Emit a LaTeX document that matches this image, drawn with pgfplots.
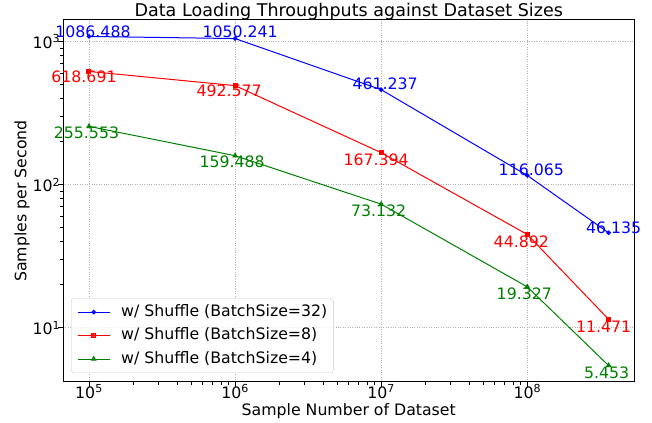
\documentclass[border=0pt]{standalone}
\usepackage{fontspec}
\setmainfont{DejaVu Sans}
\usepackage{pgfplots}
\pgfplotsset{compat=1.18}
\definecolor{mgreen}{RGB}{0,128,0}
\newcommand\cf{\fontsize{15.8}{19}\selectfont}
\newcommand\tf{\fontsize{17.6}{21}\selectfont}
\begin{document}
\cf
\begin{tikzpicture}[font=\cf]
\begin{axis}[
  at={(63bp,41bp)}, anchor=south west,
  scale only axis, width=571.5bp, height=362bp,
  xmode=log, ymode=log,
  xmin=66400, xmax=5.42e8, ymin=4.18, ymax=1416,
  clip=false,
  xtick={1e5,1e6,1e7,1e8},
  xticklabels={10\textsuperscript{5},10\textsuperscript{6},10\textsuperscript{7},10\textsuperscript{8}},
  ytick={10,100,1000},
  yticklabels={10\textsuperscript{1},10\textsuperscript{2},10\textsuperscript{3}},
  tick pos=left, tick align=outside,
  major tick length=4.6bp, minor tick length=2.6bp,
  every tick/.style={black, line width=0.8bp},
  axis line style={line width=1bp},
  grid=major, major grid style={draw=gray!60, dotted, line width=0.9bp},
  xticklabel style={font=\cf, anchor=base, inner sep=0pt, yshift=-11.5bp},
  yticklabel style={font=\cf, anchor=east, inner sep=0pt, xshift=2bp},
  title={Data Loading Throughputs against Dataset Sizes},
  every axis title/.style={font=\tf, at={(axis description cs:0.5,1.011)}, anchor=base, inner sep=0pt},
  xlabel={Sample Number of Dataset},
  every axis x label/.style={font=\cf, at={(axis description cs:0.5,-0.0939)}, anchor=base, inner sep=0pt},
  ylabel={Samples per Second},
  every axis y label/.style={font=\cf, at={(axis description cs:-0.0717,0.5)}, rotate=90, anchor=center, inner sep=0pt},
  legend cell align=left,
  legend style={font=\cf, at={(axis description cs:0,0)}, anchor=south west, xshift=8bp, yshift=9bp,
    draw=black!20, rounded corners=3bp, fill=white, fill opacity=0.8, text opacity=1,
    inner xsep=6bp, inner ysep=2bp,
    nodes={inner xsep=0bp, inner ysep=3.75bp, text height=12bp, text depth=4bp},
    /tikz/every odd column/.append style={column sep=11bp}},
  legend image code/.code={\draw[mark repeat=2, mark phase=2] plot coordinates {(0bp,0bp) (16bp,0bp) (32bp,0bp)};},
]
\addplot[blue, line width=1bp, mark=*, mark size=1.8bp] coordinates {(1e5,1086.488) (1e6,1050.241) (1e7,461.237) (1e8,116.065) (3.6e8,46.135)};
\addlegendentry{w/ Shuffle (BatchSize=32)}
\addplot[red, line width=1bp, mark=square*, mark size=2bp] coordinates {(1e5,618.691) (1e6,492.577) (1e7,167.394) (1e8,44.892) (3.6e8,11.471)};
\addlegendentry{w/ Shuffle (BatchSize=8)}
\addplot[mgreen, line width=1bp, mark=triangle*, mark size=2.4bp] coordinates {(1e5,255.553) (1e6,159.488) (1e7,73.132) (1e8,19.327) (3.6e8,5.453)};
\addlegendentry{w/ Shuffle (BatchSize=4)}

\begin{scope}[every node/.style={inner sep=0pt, anchor=center, font=\cf}]
\node[blue, xshift=4bp, yshift=5bp] at (axis cs:1e5,1086.488) {1086.488};
\node[blue, xshift=5bp, yshift=6.5bp] at (axis cs:1e6,1050.241) {1050.241};
\node[blue, xshift=4bp, yshift=6bp] at (axis cs:1e7,461.237) {461.237};
\node[blue, xshift=4bp, yshift=6bp] at (axis cs:1e8,116.065) {116.065};
\node[blue, xshift=5bp, yshift=5bp] at (axis cs:3.6e8,46.135) {46.135};
\node[red, xshift=-5bp, yshift=-5bp] at (axis cs:1e5,618.691) {618.691};
\node[red, xshift=-6bp, yshift=-5bp] at (axis cs:1e6,492.577) {492.577};
\node[red, xshift=-5bp, yshift=-7bp] at (axis cs:1e7,167.394) {167.394};
\node[red, xshift=-6bp, yshift=-7bp] at (axis cs:1e8,44.892) {44.892};
\node[red, xshift=-5bp, yshift=-7bp] at (axis cs:3.6e8,11.471) {11.471};
\node[mgreen, xshift=-2.5bp, yshift=-6.5bp] at (axis cs:1e5,255.553) {255.553};
\node[mgreen, xshift=-3bp, yshift=-6.5bp] at (axis cs:1e6,159.488) {159.488};
\node[mgreen, xshift=-2.5bp, yshift=-7bp] at (axis cs:1e7,73.132) {73.132};
\node[mgreen, xshift=-3bp, yshift=-7bp] at (axis cs:1e8,19.327) {19.327};
\node[mgreen, xshift=-2bp, yshift=-7bp] at (axis cs:3.6e8,5.453) {5.453};
\end{scope}
\end{axis}
\pgfresetboundingbox
\useasboundingbox (0,0) rectangle (652bp,423bp);
\end{tikzpicture}
\end{document}
